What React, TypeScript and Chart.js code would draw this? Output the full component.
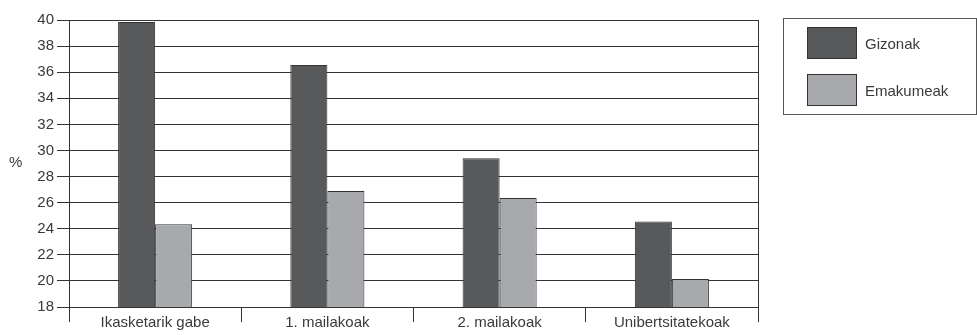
import React, { useEffect, useRef } from "react";
import { Chart, registerables } from "chart.js";

Chart.register(...registerables);

const categories = ["Ikasketarik gabe", "1. mailakoak", "2. mailakoak", "Unibertsitatekoak"];
const gizonak = [39.85, 36.55, 29.4, 24.55];
const emakumeak = [24.35, 26.9, 26.35, 20.15];
const seriesNames = ["Gizonak", "Emakumeak"];
const yMin = 18;
const yMax = 40;
const yStep = 2;

const DARK = "#58595b";
const LIGHT = "#a7a9ac";
const LINE = "#333333";
const TEXT = "#3a3a3a";
const FONT = "'Liberation Sans', Arial, sans-serif";

export default function App() {
  const ref = useRef<HTMLCanvasElement | null>(null);

  useEffect(() => {
    if (!ref.current) return;
    const chart = new Chart(ref.current, {
      type: "bar",
      data: {
        labels: categories,
        datasets: [
          {
            label: seriesNames[0],
            data: gizonak,
            backgroundColor: DARK,
            borderColor: LINE,
            borderWidth: 1,
            categoryPercentage: 0.43,
            barPercentage: 1,
          },
          {
            label: seriesNames[1],
            data: emakumeak,
            backgroundColor: LIGHT,
            borderColor: LINE,
            borderWidth: 1,
            categoryPercentage: 0.43,
            barPercentage: 1,
          },
        ],
      },
      options: {
        animation: false,
        responsive: false,
        maintainAspectRatio: false,
        layout: { padding: { left: 0, top: 20, right: 219, bottom: 0 } },
        plugins: { legend: { display: false }, tooltip: { enabled: false } },
        scales: {
          x: {
            grid: {
              display: true,
              offset: true,
              drawOnChartArea: false,
              drawTicks: true,
              tickLength: 15,
              color: LINE,
              lineWidth: 1,
            },
            border: { display: true, color: LINE, width: 1 },
            ticks: {
              color: TEXT,
              font: { family: FONT, size: 15 },
              padding: -8,
              maxRotation: 0,
              autoSkip: false,
            },
            afterFit: (scale: any) => {
              scale.height = 28;
            },
          },
          y: {
            min: yMin,
            max: yMax,
            grid: {
              color: LINE,
              lineWidth: 1,
              drawTicks: true,
              tickLength: 12,
            },
            border: { display: true, color: LINE, width: 1 },
            ticks: {
              stepSize: yStep,
              color: TEXT,
              font: { family: FONT, size: 15 },
              padding: 3,
            },
            afterFit: (scale: any) => {
              scale.width = 69;
            },
          },
        },
      },
      plugins: [
        {
          id: "rightBorder",
          afterDraw(c: any) {
            const { ctx, chartArea } = c;
            ctx.save();
            ctx.strokeStyle = LINE;
            ctx.lineWidth = 1;
            ctx.beginPath();
            const x = Math.round(chartArea.right) + 0.5;
            ctx.moveTo(x, chartArea.top);
            ctx.lineTo(x, chartArea.bottom);
            ctx.stroke();
            ctx.restore();
          },
        },
      ],
    });
    return () => chart.destroy();
  }, []);

  const swatch = (color: string, top: number): React.CSSProperties => ({
    position: "absolute",
    left: 23,
    top,
    width: 48,
    height: 30,
    background: color,
    border: "1px solid " + LINE,
  });
  const label = (top: number): React.CSSProperties => ({
    position: "absolute",
    left: 81,
    top,
    fontFamily: FONT,
    fontSize: 15,
    color: TEXT,
    lineHeight: "16px",
    whiteSpace: "nowrap",
  });

  return (
    <div style={{ position: "absolute", left: 0, top: 0, width: 977, height: 335, background: "#fff" }}>
      <canvas ref={ref} width={977} height={335} style={{ position: "absolute", left: 0, top: 0 }} />
      <div
        style={{
          position: "absolute",
          left: 9,
          top: 154,
          fontFamily: FONT,
          fontSize: 15,
          color: TEXT,
          lineHeight: "16px",
        }}
      >
        %
      </div>
      <div
        style={{
          position: "absolute",
          left: 783,
          top: 18,
          width: 194,
          height: 97,
          border: "1px solid #555",
          boxSizing: "border-box",
        }}
      >
        <div style={swatch(DARK, 8)} />
        <div style={label(17)}>{seriesNames[0]}</div>
        <div style={swatch(LIGHT, 55)} />
        <div style={label(64)}>{seriesNames[1]}</div>
      </div>
    </div>
  );
}
